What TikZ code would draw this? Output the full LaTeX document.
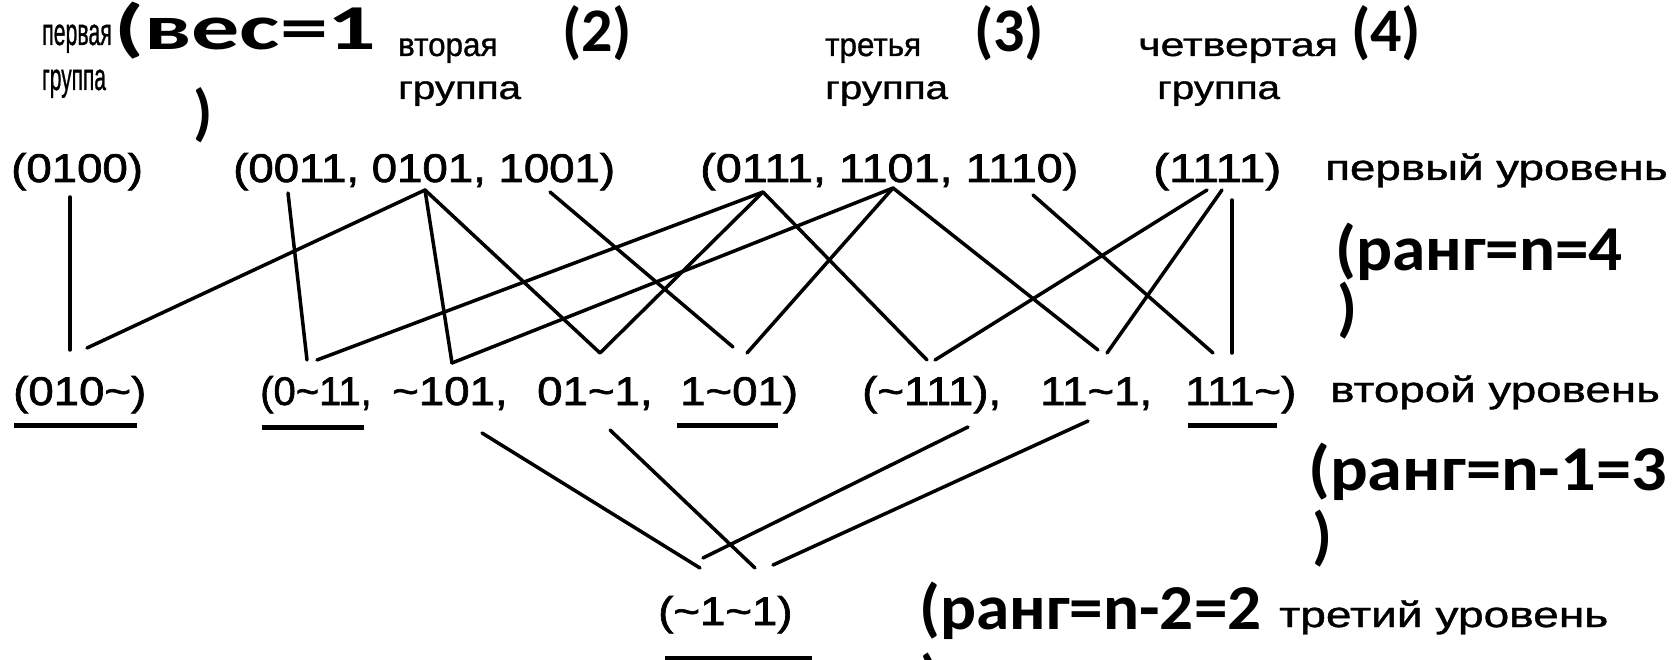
\documentclass[tikz,border=0pt]{standalone}
\usepackage{fontspec}
\usepackage{graphicx}
\setmainfont{Liberation Sans}
\newfontfamily\rfont{Liberation Sans}[FakeBold=1.5]
\newfontfamily\lfont{Liberation Sans}[FakeBold=1.0]
\newfontfamily\calb{Carlito}
\newcommand\rowsx[1]{\scalebox{1.14}[1]{#1}}
\newcommand\lvlsx[1]{\scalebox{1.27}[1]{#1}}
\newcommand\bigsx[1]{\scalebox{1.05}[1]{#1}}
\tikzset{
  rowtxt/.style={anchor=base west, inner sep=0pt, font=\rfont\fontsize{40}{42}\selectfont},
  lbl/.style={anchor=base west, inner sep=0pt, font=\lfont\fontsize{33}{35}\selectfont},
  lvl/.style={anchor=base west, inner sep=0pt, font=\lfont\fontsize{36}{38}\selectfont},
  bigl/.style={anchor=base west, inner sep=0pt, font=\calb\bfseries\fontsize{64}{66}\selectfont},
  grp/.style={anchor=base west, inner sep=0pt, font=\calb\bfseries\fontsize{62}{64}\selectfont},
  edge/.style={line width=3.5pt, line cap=round},
  uline/.style={line width=5pt}
}
\begin{document}
\begin{tikzpicture}[x=1pt,y=-1pt]
\useasboundingbox (0,0) rectangle (1675,660);
\fill[white] (0,0) rectangle (1675,660);
\clip (0,0) rectangle (1675,660);

% group headings
\node[lbl] (g1a) at (42,45) {\fontsize{38}{40}\selectfont\scalebox{0.56}[1]{первая}};
\node[lbl] (g1b) at (42,90) {\fontsize{38}{40}\selectfont\scalebox{0.55}[1]{группа}};
\node[grp] (w1) at (114,50) {\scalebox{1.5}[1]{\fontsize{64}{66}\selectfont(вес=1}};
\node[grp] (w1c) at (193,134) {)};
\node[lbl] (g2a) at (398,56) {\scalebox{0.95}[1]{вторая}};
\node[lbl] (g2b) at (398,99) {\scalebox{1.22}[1]{группа}};
\node[grp] (w2) at (562,52) {(2)};
\node[lbl] (g3a) at (825,56) {\scalebox{0.95}[1]{третья}};
\node[lbl] (g3b) at (825,99) {\scalebox{1.22}[1]{группа}};
\node[grp] (w3) at (974,52) {(3)};
\node[lbl] (g4a) at (1138,56) {\scalebox{1.3}[1]{четвертая}};
\node[lbl] (g4b) at (1157,99) {\scalebox{1.22}[1]{группа}};
\node[grp] (w4) at (1351,52) {(4)};

% first level
\node[rowtxt] (r1a) at (11,182) {\rowsx{(0100)}};
\node[rowtxt] (r1b) at (233,182) {\rowsx{(0011, 0101, 1001)}};
\node[rowtxt] (r1c) at (700,182) {\scalebox{1.17}[1]{(0111, 1101, 1110)}};
\node[rowtxt] (r1d) at (1153,182) {\scalebox{1.2}[1]{(1111)}};
\node[lvl] (l1) at (1325,180) {\lvlsx{первый уровень}};
\node[bigl] (k1) at (1335,271) {\bigsx{(ранг=n=4}};
\node[bigl] (k1c) at (1337,329) {)};

% second level
\node[rowtxt] (s1) at (13,405) {\rowsx{(010\char`~)}};
\node[rowtxt] (s2) at (260,405) {\scalebox{1.0}[1]{(0\char`~11,}};
\node[rowtxt] (s3) at (392,405) {\rowsx{\char`~101,}};
\node[rowtxt] (s4) at (537,405) {\rowsx{01\char`~1,}};
\node[rowtxt] (s5) at (680,405) {\rowsx{1\char`~01)}};
\node[rowtxt] (s6) at (862,405) {\rowsx{(\char`~111),}};
\node[rowtxt] (s7) at (1040,405) {\rowsx{11\char`~1,}};
\node[rowtxt] (s8) at (1185,405) {\rowsx{111\char`~)}};
\node[lvl] (l2) at (1330,402) {\lvlsx{второй уровень}};
\node[bigl] (k2) at (1308,490) {\scalebox{1.1}[1]{(ранг=n-1=3}};
\node[bigl] (k2c) at (1312,557) {)};

% third level
\node[rowtxt] (t1) at (658,625) {\rowsx{(\char`~1\char`~1)}};
\node[bigl] (k3) at (919,629) {\bigsx{(ранг=n-2=2}};
\node[bigl] (k3c) at (920,700) {)};
\node[lvl] (l3) at (1279,627) {\scalebox{1.28}[1]{третий уровень}};

% underlines
\draw[uline] (14,425) -- (137,425);
\draw[uline] (262,427) -- (364,427);
\draw[uline] (677,425) -- (778,425);
\draw[uline] (1188,425) -- (1277,425);
\draw[uline] (665,658) -- (812,658);

% connector end points, first level
\coordinate (t0100) at (70,197);
\coordinate (t0011) at (288,193);
\coordinate (t0101) at (425,190);
\coordinate (t1001) at (550,192);
\coordinate (t0111) at (763,192);
\coordinate (t1101) at (893,188);
\coordinate (t1110) at (1033,195);
\coordinate (t1111a) at (1207,190);
\coordinate (t1111b) at (1222,190);
\coordinate (t1111v) at (1232,200);
% second level (top side)
\coordinate (b010v) at (70,350);
\coordinate (b010d) at (87,348);
\coordinate (b0x11a) at (307,360);
\coordinate (b0x11b) at (317,360);
\coordinate (bx101) at (452,363);
\coordinate (b01x1) at (600,353);
\coordinate (b1x01a) at (733,347);
\coordinate (b1x01b) at (747,353);
\coordinate (bx111a) at (927,360);
\coordinate (bx111b) at (935,360);
\coordinate (b11x1a) at (1098,350);
\coordinate (b11x1b) at (1107,353);
\coordinate (b111xa) at (1213,353);
\coordinate (b111xv) at (1232,353);
% second level (bottom side) and third level
\coordinate (ux101) at (482,433);
\coordinate (u01x1) at (610,430);
\coordinate (ux111) at (968,427);
\coordinate (u11x1) at (1088,421);
\coordinate (dx101) at (700,568);
\coordinate (d01x1) at (755,568);
\coordinate (dx111) at (703,558);
\coordinate (d11x1) at (773,565);

\draw[edge] (t0100) -- (b010v);
\draw[edge] (t0101) -- (b010d);
\draw[edge] (t0011) -- (b0x11a);
\draw[edge] (t0111) -- (b0x11b);
\draw[edge] (t0101) -- (bx101);
\draw[edge] (t1101) -- (bx101);
\draw[edge] (t0101) -- (b01x1);
\draw[edge] (t0111) -- (b01x1);
\draw[edge] (t1001) -- (b1x01a);
\draw[edge] (t1101) -- (b1x01b);
\draw[edge] (t0111) -- (bx111a);
\draw[edge] (t1111a) -- (bx111b);
\draw[edge] (t1101) -- (b11x1a);
\draw[edge] (t1111b) -- (b11x1b);
\draw[edge] (t1110) -- (b111xa);
\draw[edge] (t1111v) -- (b111xv);

\draw[edge] (ux101) -- (dx101);
\draw[edge] (u01x1) -- (d01x1);
\draw[edge] (ux111) -- (dx111);
\draw[edge] (u11x1) -- (d11x1);
\end{tikzpicture}
\end{document}
